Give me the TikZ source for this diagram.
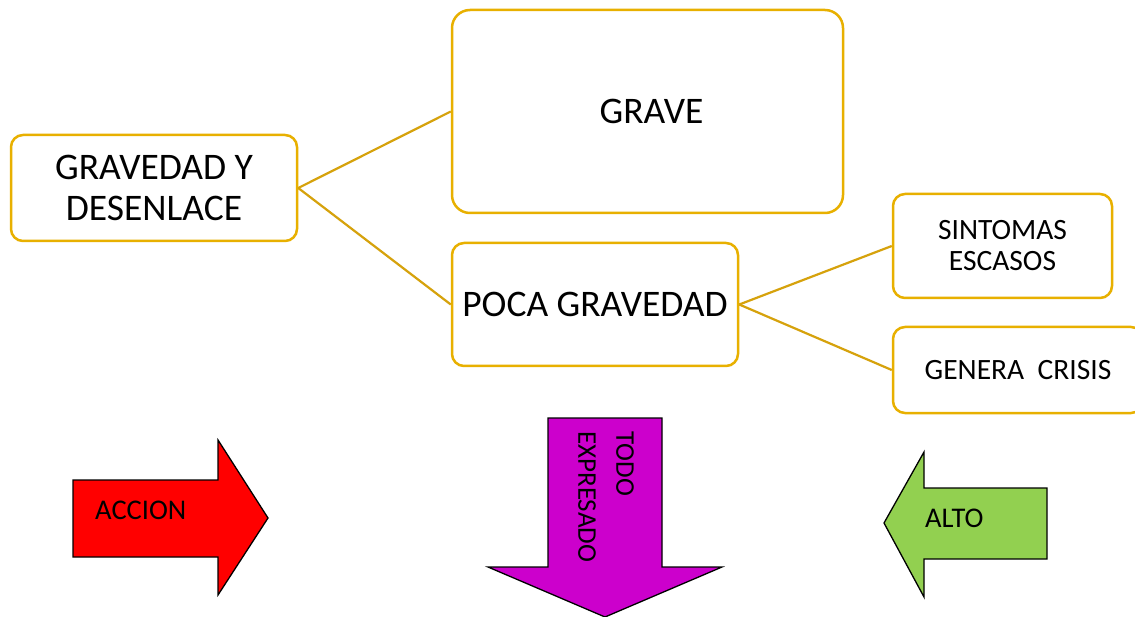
\documentclass[tikz,border=0pt]{standalone}
\usepackage{fontspec}
\setmainfont{Carlito}
\definecolor{boxgold}{RGB}{232,176,0}
\definecolor{linegold}{RGB}{214,162,12}
\definecolor{arrred}{RGB}{255,0,0}
\definecolor{arrmag}{RGB}{204,0,204}
\definecolor{arrgreen}{RGB}{146,208,80}
\tikzset{
  goldbox/.style={draw=boxgold, line width=2.5pt, rounded corners=12pt, fill=white, align=center, inner sep=0pt},
  bigtext/.style={font=\fontsize{37.5}{41}\selectfont},
  smalltext/.style={font=\fontsize{29.5}{31}\selectfont},
  arrtext/.style={font=\fontsize{28.5}{38}\selectfont, inner sep=0pt},
  vertext/.style={font=\fontsize{27}{38}\selectfont, inner sep=0pt},
  link/.style={draw=linegold, line width=2.2pt},
  blockarrow/.style={draw=black, line width=1.3pt, line join=miter}
}
\begin{document}
\begin{tikzpicture}[x=1pt,y=-1pt]
\clip (0,0) rectangle (1135,617);
\fill[white] (0,0) rectangle (1135,617);
% boxes
\node[goldbox, bigtext, minimum width=286pt, minimum height=106pt] (gd) at (154,188) {GRAVEDAD Y\\DESENLACE};
\node[goldbox, bigtext, rounded corners=18pt, minimum width=391pt, minimum height=203pt] (grave) at (647.5,111.5) {\hspace*{8pt}GRAVE};
\node[goldbox, bigtext, minimum width=286pt, minimum height=123pt] (poca) at (595,304.5) {POCA GRAVEDAD};
\node[goldbox, smalltext, minimum width=219pt, minimum height=104pt] (sint) at (1002.5,246) {SINTOMAS\\ESCASOS};
\node[goldbox, smalltext, minimum width=250pt, minimum height=86pt] (gen) at (1018,370) {GENERA\ \ CRISIS};
% connectors
\draw[link] (gd.east) -- (grave.west);
\draw[link] (gd.east) -- (poca.west);
\draw[link] (poca.east) -- (sint.west);
\draw[link] (poca.east) -- (gen.west);
% block arrows
\draw[blockarrow, fill=arrred] (73,480) -- (218,480) -- (218,440) -- (268,518) -- (218,595) -- (218,557) -- (73,557) -- cycle;
\node[arrtext, anchor=west] (accion) at (95,510) {ACCION};
\draw[blockarrow, fill=arrmag] (548,418) -- (662,418) -- (662,567) -- (722,567) -- (605,617) -- (488,567) -- (548,567) -- cycle;
\node[vertext, align=left, rotate=-90, anchor=north west] (todo) at (634,431) {TODO\\EXPRESADO};
\draw[blockarrow, fill=arrgreen] (1047,488) -- (924,488) -- (924,452) -- (884,523) -- (924,597) -- (924,559) -- (1047,559) -- cycle;
\node[arrtext, anchor=west] (alto) at (925,518) {ALTO};
\end{tikzpicture}
\end{document}
